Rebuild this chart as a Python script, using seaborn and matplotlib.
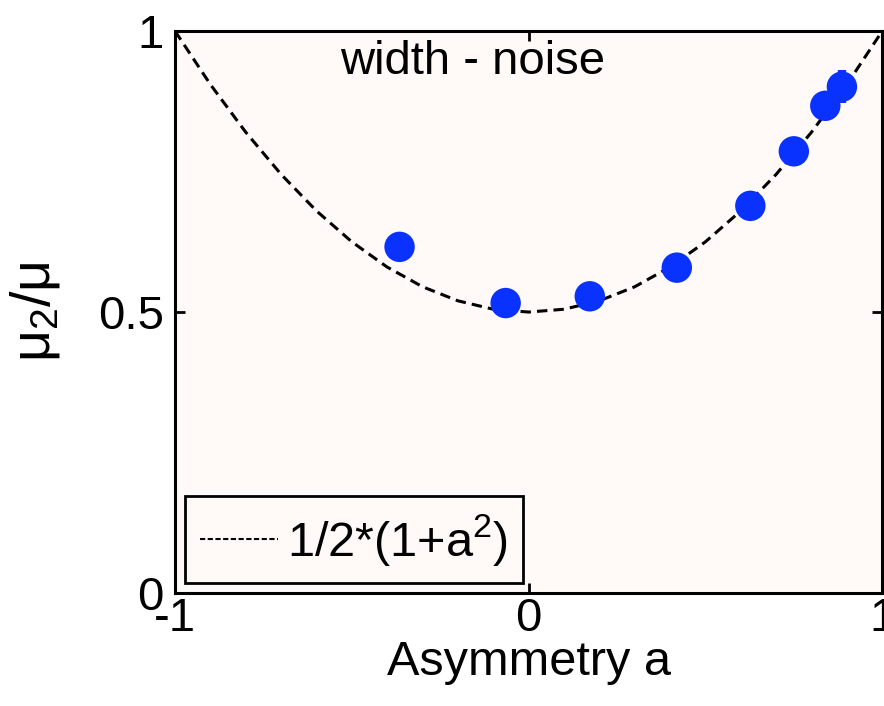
import numpy as np
import pandas as pd
import matplotlib
matplotlib.use("Agg")
import matplotlib.pyplot as plt
import seaborn as sns

# Measured points
asym = [-0.365, -0.065, 0.173, 0.419, 0.627, 0.750, 0.839, 0.886]
ratio = [0.616, 0.516, 0.528, 0.579, 0.689, 0.786, 0.867, 0.901]
ratio_err = [0.0, 0.0, 0.0, 0.0, 0.0, 0.0, 0.0, 0.029]

# Grid for the reference curve 1/2*(1+a^2)
a_grid = [-1.0, -0.9, -0.8, -0.7, -0.6, -0.5, -0.4, -0.3, -0.2, -0.1, 0.0,
          0.1, 0.2, 0.3, 0.4, 0.5, 0.6, 0.7, 0.8, 0.9, 1.0]

x_ticks = [-1, 0, 1]
x_ticklabels = ["-1", "0", "1"]
y_ticks = [0, 0.5, 1]
y_ticklabels = ["0", "0.5", "1"]

sns.set_style("ticks")
plt.rcParams["font.family"] = ["Liberation Sans", "DejaVu Sans"]
plt.rcParams["mathtext.fontset"] = "custom"
plt.rcParams["mathtext.rm"] = "Liberation Sans"
plt.rcParams["mathtext.it"] = "Liberation Sans"
plt.rcParams["mathtext.default"] = "regular"
for key in ["text.color", "axes.labelcolor", "xtick.color", "ytick.color",
            "axes.edgecolor"]:
    plt.rcParams[key] = "black"

FS = 34

curve = pd.DataFrame({"a": a_grid})
curve["r"] = 0.5 * (1 + curve["a"] ** 2)
pts = pd.DataFrame({"a": asym, "r": ratio, "err": ratio_err})

fig = plt.figure(figsize=(8.84, 7.06), dpi=100)
ax = fig.add_axes([0.198, 0.160, 0.800, 0.796])
bg = "#fff9f8"
ax.set_facecolor(bg)

sns.lineplot(data=curve, x="a", y="r", ax=ax, color="black", lw=2.2,
             linestyle=(0, (3.4, 2.0)), sort=False,
             label=r"$1/2{*}(1{+}a^2)$", zorder=2)

# error bars drawn underneath the markers
ax.errorbar(pts["a"], pts["r"], yerr=pts["err"], fmt="none",
            ecolor="#0a32ff", elinewidth=6, capsize=0, zorder=3)
sns.scatterplot(data=pts, x="a", y="r", ax=ax, s=480, color="#0a32ff",
                edgecolor="none", zorder=4, legend=False)

ax.set_xlim(-1, 1)
ax.set_ylim(0, 1)
ax.set_xticks(x_ticks)
ax.set_xticklabels(x_ticklabels)
ax.set_yticks(y_ticks)
ax.set_yticklabels(y_ticklabels)
ax.tick_params(direction="in", length=7, width=2, labelsize=FS,
               top=True, right=True)
ax.tick_params(axis="x", pad=3)
ax.tick_params(axis="y", pad=8)
for sp in ax.spines.values():
    sp.set_visible(True)
    sp.set_linewidth(2.2)
    sp.set_color("black")

ax.set_xlabel("Asymmetry a", fontsize=35, labelpad=-1)
ax.set_ylabel(r"$\mu_2/\mu$", fontsize=40, labelpad=26)

ax.text(0.421, 0.945, "width - noise", transform=ax.transAxes,
        ha="center", va="center", fontsize=FS)

leg = ax.legend(loc="lower left", fontsize=35, frameon=True, fancybox=False,
                handlelength=1.6, handletextpad=0.18, borderpad=0.32,
                borderaxespad=0.2)
leg.get_frame().set_edgecolor("black")
leg.get_frame().set_linewidth(2.0)
leg.get_frame().set_facecolor(bg)
leg.get_frame().set_alpha(1)
for h in leg.get_lines():
    h.set_linewidth(1.5)
    h.set_linestyle((0, (2.5, 1.2)))

fig.savefig("out.png", dpi=100)
